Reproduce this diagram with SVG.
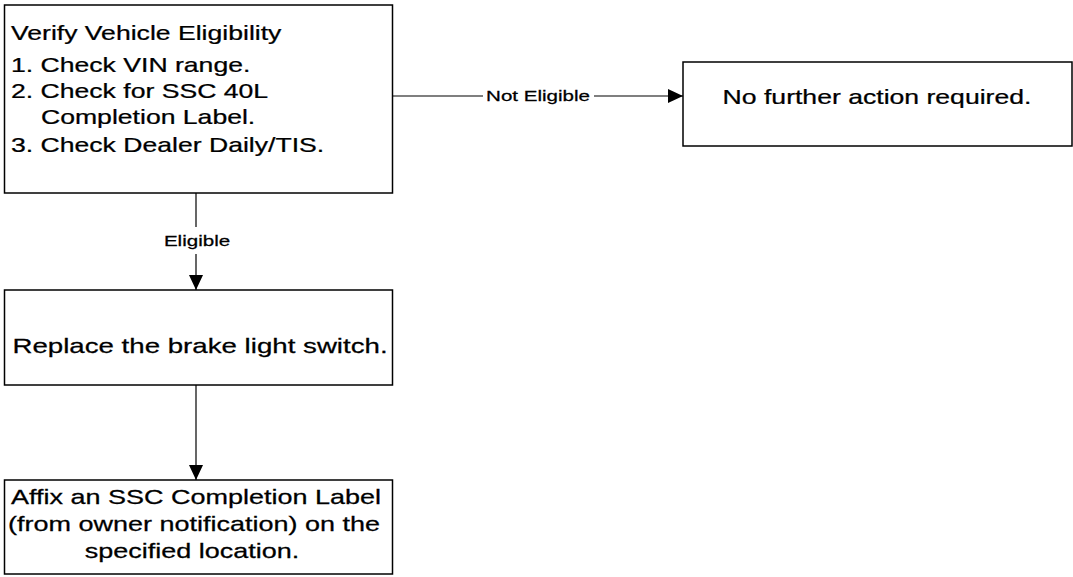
<svg xmlns="http://www.w3.org/2000/svg" width="1073" height="577" viewBox="0 0 1073 577">
<style>
.box{fill:#fff;stroke:#000;stroke-width:1.5}
.t{font-family:"Liberation Sans",Arial,sans-serif;fill:#000;stroke:#000;stroke-width:0.25}
.m{font-size:20px}
.l{font-size:15px}
.c{stroke:#000;stroke-width:1.2;fill:none}
</style>
<defs>
<marker id="ah" markerUnits="userSpaceOnUse" markerWidth="16" markerHeight="14" refX="15" refY="7" orient="auto">
<path d="M0,0 L15,7 L0,14 Z" fill="#000"/>
</marker>
</defs>
<rect width="1073" height="577" fill="#fff"/>
<g id="connectors">
<line class="c" x1="393" y1="96" x2="483" y2="96"/>
<line class="c" x1="594" y1="96" x2="683" y2="96" marker-end="url(#ah)"/>
<text class="t l" transform="translate(538,101) scale(1.37,1)" text-anchor="middle">Not Eligible</text>
<line class="c" x1="196" y1="193" x2="196" y2="227"/>
<line class="c" x1="196" y1="254" x2="196" y2="290" marker-end="url(#ah)"/>
<text class="t l" transform="translate(197,246) scale(1.37,1)" text-anchor="middle">Eligible</text>
<line class="c" x1="196" y1="385" x2="196" y2="480" marker-end="url(#ah)"/>
</g>
<g id="verify">
<rect class="box" x="4.5" y="5" width="388" height="188"/>
<text class="t m" transform="translate(11,40) scale(1.33,1)">Verify Vehicle Eligibility</text>
<text class="t m" transform="translate(11,72) scale(1.33,1)">1. Check VIN range.</text>
<text class="t m" transform="translate(11,98) scale(1.33,1)">2. Check for SSC 40L</text>
<text class="t m" transform="translate(41,124) scale(1.33,1)">Completion Label.</text>
<text class="t m" transform="translate(11,152) scale(1.33,1)">3. Check Dealer Daily/TIS.</text>
</g>
<g id="nofurther">
<rect class="box" x="683" y="62" width="389" height="84"/>
<text class="t m" transform="translate(877,104) scale(1.33,1)" text-anchor="middle">No further action required.</text>
</g>
<g id="replace">
<rect class="box" x="4.5" y="290" width="388" height="95"/>
<text class="t" font-size="20.5" transform="translate(200,353) scale(1.35,1)" text-anchor="middle">Replace the brake light switch.</text>
</g>
<g id="affix">
<rect class="box" x="4.5" y="480" width="388" height="94"/>
<text class="t" font-size="20" transform="translate(196,504) scale(1.35,1)" text-anchor="middle">Affix an SSC Completion Label</text>
<text class="t" font-size="20" transform="translate(194,531) scale(1.35,1)" text-anchor="middle">(from owner notification) on the</text>
<text class="t" font-size="20" transform="translate(192,558) scale(1.35,1)" text-anchor="middle">specified location.</text>
</g>
</svg>
